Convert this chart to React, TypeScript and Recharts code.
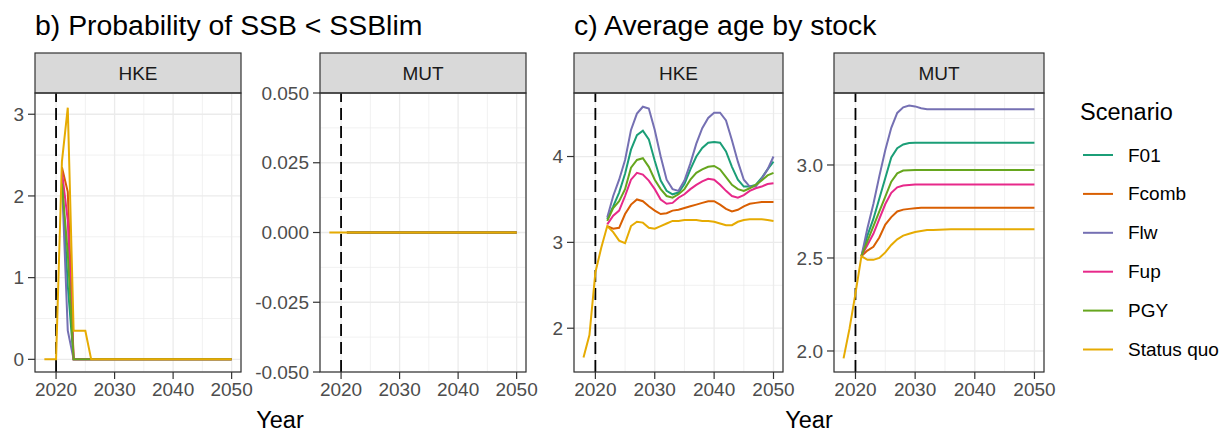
import { LineChart, Line, XAxis, YAxis, CartesianGrid, ReferenceLine } from 'recharts';

const n = null;

const years = [
  2018, 2019, 2020, 2021, 2022, 2023, 2024, 2025, 2026, 2027, 2028,
  2029, 2030, 2031, 2032, 2033, 2034, 2035, 2036, 2037, 2038, 2039,
  2040, 2041, 2042, 2043, 2044, 2045, 2046, 2047, 2048, 2049, 2050,
];

const scenarios = ['F01', 'Fcomb', 'Flw', 'Fup', 'PGY', 'Status quo'];
const colors = ['#1B9E77', '#D95F02', '#7570B3', '#E7298A', '#66A61E', '#E6AB02'];

const xTicks = [2020, 2030, 2040, 2050];
const xMinor = [2025, 2035, 2045];

// b) probability of SSB < SSBlim, HKE
const hkeProbF01 = [n, n, n, 2.25, 0.9, 0, 0, 0, 0, 0, 0, 0, 0, 0, 0, 0, 0, 0, 0, 0, 0, 0, 0, 0, 0, 0, 0, 0, 0, 0, 0, 0, 0];
const hkeProbFcomb = [n, n, n, 2.35, 2.05, 0, 0, 0, 0, 0, 0, 0, 0, 0, 0, 0, 0, 0, 0, 0, 0, 0, 0, 0, 0, 0, 0, 0, 0, 0, 0, 0, 0];
const hkeProbFlw = [n, n, n, 2.2, 0.35, 0, 0, 0, 0, 0, 0, 0, 0, 0, 0, 0, 0, 0, 0, 0, 0, 0, 0, 0, 0, 0, 0, 0, 0, 0, 0, 0, 0];
const hkeProbFup = [n, n, n, 2.3, 1.7, 0, 0, 0, 0, 0, 0, 0, 0, 0, 0, 0, 0, 0, 0, 0, 0, 0, 0, 0, 0, 0, 0, 0, 0, 0, 0, 0, 0];
const hkeProbPGY = [n, n, n, 2.15, 1.3, 0, 0, 0, 0, 0, 0, 0, 0, 0, 0, 0, 0, 0, 0, 0, 0, 0, 0, 0, 0, 0, 0, 0, 0, 0, 0, 0, 0];
const hkeProbSQ = [0, 0, 0, 2.42, 3.08, 0.35, 0.35, 0.35, 0, 0, 0, 0, 0, 0, 0, 0, 0, 0, 0, 0, 0, 0, 0, 0, 0, 0, 0, 0, 0, 0, 0, 0, 0];

// b) probability of SSB < SSBlim, MUT
const mutProbF01 = [n, n, n, 0, 0, 0, 0, 0, 0, 0, 0, 0, 0, 0, 0, 0, 0, 0, 0, 0, 0, 0, 0, 0, 0, 0, 0, 0, 0, 0, 0, 0, 0];
const mutProbFcomb = [n, n, n, 0, 0, 0, 0, 0, 0, 0, 0, 0, 0, 0, 0, 0, 0, 0, 0, 0, 0, 0, 0, 0, 0, 0, 0, 0, 0, 0, 0, 0, 0];
const mutProbFlw = [n, n, n, 0, 0, 0, 0, 0, 0, 0, 0, 0, 0, 0, 0, 0, 0, 0, 0, 0, 0, 0, 0, 0, 0, 0, 0, 0, 0, 0, 0, 0, 0];
const mutProbFup = [n, n, n, 0, 0, 0, 0, 0, 0, 0, 0, 0, 0, 0, 0, 0, 0, 0, 0, 0, 0, 0, 0, 0, 0, 0, 0, 0, 0, 0, 0, 0, 0];
const mutProbPGY = [n, n, n, 0, 0, 0, 0, 0, 0, 0, 0, 0, 0, 0, 0, 0, 0, 0, 0, 0, 0, 0, 0, 0, 0, 0, 0, 0, 0, 0, 0, 0, 0];
const mutProbSQ = [0, 0, 0, 0, 0, 0, 0, 0, 0, 0, 0, 0, 0, 0, 0, 0, 0, 0, 0, 0, 0, 0, 0, 0, 0, 0, 0, 0, 0, 0, 0, 0, 0];

// c) average age, HKE
const hkeAgeF01 = [n, n, n, n, 3.27, 3.42, 3.58, 3.8, 4.08, 4.25, 4.3, 4.2, 3.95, 3.72, 3.6, 3.56, 3.58, 3.68, 3.85, 4.0, 4.1, 4.16, 4.17, 4.16, 4.06, 3.88, 3.73, 3.65, 3.65, 3.67, 3.75, 3.85, 3.94];
const hkeAgeFcomb = [n, n, n, n, 3.19, 3.16, 3.17, 3.33, 3.44, 3.5, 3.48, 3.42, 3.37, 3.33, 3.34, 3.37, 3.38, 3.4, 3.42, 3.44, 3.46, 3.48, 3.48, 3.44, 3.39, 3.36, 3.38, 3.42, 3.45, 3.46, 3.47, 3.47, 3.47];
const hkeAgeFlw = [n, n, n, n, 3.29, 3.54, 3.73, 3.96, 4.31, 4.5, 4.58, 4.56, 4.31, 4.0, 3.73, 3.62, 3.6, 3.72, 3.92, 4.15, 4.33, 4.45, 4.51, 4.51, 4.42, 4.19, 3.94, 3.73, 3.65, 3.65, 3.74, 3.85, 4.0];
const hkeAgeFup = [n, n, n, n, 3.21, 3.31, 3.37, 3.54, 3.73, 3.81, 3.79, 3.72, 3.62, 3.5, 3.45, 3.46, 3.52, 3.56, 3.62, 3.67, 3.71, 3.74, 3.73, 3.67, 3.6, 3.54, 3.52, 3.55, 3.6, 3.63, 3.65, 3.68, 3.69];
const hkeAgePGY = [n, n, n, n, 3.25, 3.4, 3.48, 3.62, 3.87, 3.96, 3.98, 3.88, 3.73, 3.62, 3.54, 3.52, 3.56, 3.62, 3.73, 3.81, 3.85, 3.88, 3.89, 3.85, 3.76, 3.67, 3.62, 3.6, 3.63, 3.67, 3.72, 3.78, 3.81];
const hkeAgeSQ = [1.66, 1.92, 2.65, 2.94, 3.19, 3.12, 3.02, 2.99, 3.19, 3.24, 3.23, 3.17, 3.16, 3.19, 3.22, 3.25, 3.25, 3.26, 3.26, 3.26, 3.25, 3.25, 3.24, 3.22, 3.2, 3.2, 3.24, 3.26, 3.27, 3.27, 3.27, 3.26, 3.25];

// c) average age, MUT
const mutAgeF01 = [n, n, n, 2.51, 2.62, 2.71, 2.82, 2.93, 3.04, 3.09, 3.11, 3.118, 3.12, 3.12, 3.12, 3.12, 3.12, 3.12, 3.12, 3.12, 3.12, 3.12, 3.12, 3.12, 3.12, 3.12, 3.12, 3.12, 3.12, 3.12, 3.12, 3.12, 3.12];
const mutAgeFcomb = [n, n, n, 2.51, 2.54, 2.56, 2.61, 2.68, 2.72, 2.75, 2.76, 2.764, 2.767, 2.77, 2.77, 2.77, 2.77, 2.77, 2.77, 2.77, 2.77, 2.77, 2.77, 2.77, 2.77, 2.77, 2.77, 2.77, 2.77, 2.77, 2.77, 2.77, 2.77];
const mutAgeFlw = [n, n, n, 2.51, 2.66, 2.79, 2.94, 3.08, 3.2, 3.28, 3.31, 3.32, 3.315, 3.305, 3.3, 3.3, 3.3, 3.3, 3.3, 3.3, 3.3, 3.3, 3.3, 3.3, 3.3, 3.3, 3.3, 3.3, 3.3, 3.3, 3.3, 3.3, 3.3];
const mutAgeFup = [n, n, n, 2.51, 2.57, 2.63, 2.71, 2.79, 2.85, 2.88, 2.89, 2.893, 2.895, 2.895, 2.895, 2.895, 2.895, 2.895, 2.895, 2.895, 2.895, 2.895, 2.895, 2.895, 2.895, 2.895, 2.895, 2.895, 2.895, 2.895, 2.895, 2.895, 2.895];
const mutAgePGY = [n, n, n, 2.51, 2.59, 2.67, 2.75, 2.83, 2.91, 2.955, 2.97, 2.972, 2.973, 2.973, 2.973, 2.973, 2.973, 2.973, 2.973, 2.973, 2.973, 2.973, 2.973, 2.973, 2.973, 2.973, 2.973, 2.973, 2.973, 2.973, 2.973, 2.973, 2.973];
const mutAgeSQ = [1.96, 2.12, 2.31, 2.51, 2.49, 2.49, 2.5, 2.53, 2.57, 2.6, 2.62, 2.63, 2.64, 2.645, 2.65, 2.65, 2.652, 2.653, 2.654, 2.655, 2.655, 2.655, 2.655, 2.655, 2.655, 2.655, 2.655, 2.655, 2.655, 2.655, 2.655, 2.655, 2.655];

const FONT = '"Liberation Sans", Arial, Helvetica, sans-serif';
const PLOT_TOP = 93;
const PLOT_H = 279;
const STRIP_H = 40;
const YW = 70;
const XH = 50;
const PAD_T = 14;
const PAD_R = 26;

function buildRows(series: (number | null)[][]) {
  return years.map((year, i) => {
    const row: Record<string, number | null> = { year };
    scenarios.forEach((s, j) => {
      row[s] = series[j][i];
    });
    return row;
  });
}

interface PanelProps {
  left: number;
  width: number;
  rows: Record<string, number | null>[];
  domain: [number, number];
  ticks: number[];
  minor: number[];
  fmt?: (v: number) => string;
}

function Panel({ left, width, rows, domain, ticks, minor, fmt }: PanelProps) {
  const tickStyle = { fill: '#4d4d4d', fontSize: 19 };
  return (
    <div style={{ position: 'absolute', left: left - YW, top: PLOT_TOP - PAD_T }}>
      <LineChart
        width={width + YW + PAD_R}
        height={PLOT_H + XH + PAD_T}
        data={rows}
        margin={{ top: PAD_T, right: PAD_R, bottom: 0, left: 0 }}
      >
        <CartesianGrid stroke="#ebebeb" strokeWidth={0.7} horizontalValues={minor} verticalValues={xMinor} />
        <CartesianGrid stroke="#ebebeb" strokeWidth={1.3} />
        <XAxis
          dataKey="year"
          type="number"
          domain={[2016.4, 2051.6]}
          ticks={xTicks}
          interval={0}
          allowDataOverflow
          axisLine={false}
          tickLine={{ stroke: '#333', strokeWidth: 1.2 }}
          tickSize={7}
          tickMargin={4}
          tick={tickStyle}
          height={XH}
        />
        <YAxis
          type="number"
          domain={domain}
          ticks={ticks}
          interval={0}
          allowDataOverflow
          axisLine={false}
          tickLine={{ stroke: '#333', strokeWidth: 1.2 }}
          tickSize={7}
          tickMargin={4}
          tick={tickStyle}
          tickFormatter={fmt}
          width={YW}
        />
        <ReferenceLine x={2020} stroke="#000" strokeWidth={1.8} strokeDasharray="12 6" />
        {scenarios.map((s, j) => (
          <Line
            key={s}
            type="linear"
            dataKey={s}
            stroke={colors[j]}
            strokeWidth={2}
            dot={false}
            isAnimationActive={false}
          />
        ))}
      </LineChart>
    </div>
  );
}

const panels = [
  { left: 35, width: 206, label: 'HKE' },
  { left: 320, width: 206, label: 'MUT' },
  { left: 574, width: 209, label: 'HKE' },
  { left: 834, width: 210, label: 'MUT' },
];

export default function App() {
  const hkeProb = buildRows([hkeProbF01, hkeProbFcomb, hkeProbFlw, hkeProbFup, hkeProbPGY, hkeProbSQ]);
  const mutProb = buildRows([mutProbF01, mutProbFcomb, mutProbFlw, mutProbFup, mutProbPGY, mutProbSQ]);
  const hkeAge = buildRows([hkeAgeF01, hkeAgeFcomb, hkeAgeFlw, hkeAgeFup, hkeAgePGY, hkeAgeSQ]);
  const mutAge = buildRows([mutAgeF01, mutAgeFcomb, mutAgeFlw, mutAgeFup, mutAgePGY, mutAgeSQ]);

  return (
    <div
      style={{
        position: 'absolute',
        left: 0,
        top: 0,
        width: 1229,
        height: 434,
        background: '#fff',
        fontFamily: FONT,
        overflow: 'hidden',
      }}
    >
      <Panel left={35} width={206} rows={hkeProb} domain={[-0.155, 3.26]} ticks={[0, 1, 2, 3]} minor={[0.5, 1.5, 2.5]} />
      <Panel
        left={320}
        width={206}
        rows={mutProb}
        domain={[-0.05, 0.05]}
        ticks={[-0.05, -0.025, 0, 0.025, 0.05]}
        minor={[-0.0375, -0.0125, 0.0125, 0.0375]}
        fmt={(v) => v.toFixed(3)}
      />
      <Panel left={574} width={209} rows={hkeAge} domain={[1.49, 4.74]} ticks={[2, 3, 4]} minor={[2.5, 3.5, 4.5]} />
      <Panel
        left={834}
        width={210}
        rows={mutAge}
        domain={[1.887, 3.387]}
        ticks={[2, 2.5, 3]}
        minor={[2.25, 2.75, 3.25]}
        fmt={(v) => v.toFixed(1)}
      />

      <svg
        width={1229}
        height={434}
        style={{ position: 'absolute', left: 0, top: 0, pointerEvents: 'none', fontFamily: FONT }}
      >
        <text x={35} y={35} fontSize={28.4} fill="#000">b) Probability of SSB &lt; SSBlim</text>
        <text x={574} y={35} fontSize={28.4} fill="#000">c) Average age by stock</text>

        {panels.map((p, i) => (
          <g key={i}>
            <rect x={p.left} y={PLOT_TOP - STRIP_H} width={p.width} height={STRIP_H} fill="#d9d9d9" stroke="#333" strokeWidth={1.2} />
            <text
              x={p.left + p.width / 2}
              y={PLOT_TOP - STRIP_H / 2}
              fontSize={19}
              fill="#1a1a1a"
              textAnchor="middle"
              dominantBaseline="central"
            >
              {p.label}
            </text>
            <rect x={p.left} y={PLOT_TOP} width={p.width} height={PLOT_H} fill="none" stroke="#333" strokeWidth={1.2} />
          </g>
        ))}

        <text x={280} y={428} fontSize={23.5} fill="#000" textAnchor="middle">Year</text>
        <text x={809} y={428} fontSize={23.5} fill="#000" textAnchor="middle">Year</text>

        <text x={1080} y={120} fontSize={23.5} fill="#000">Scenario</text>
        {scenarios.map((s, j) => (
          <g key={s}>
            <line x1={1083} x2={1113} y1={155 + j * 38.9} y2={155 + j * 38.9} stroke={colors[j]} strokeWidth={2} />
            <text x={1128} y={155 + j * 38.9} fontSize={19} fill="#000" dominantBaseline="central">
              {s}
            </text>
          </g>
        ))}
      </svg>
    </div>
  );
}
